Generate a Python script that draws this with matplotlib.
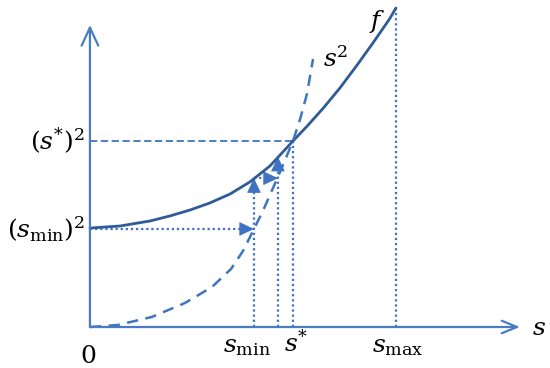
import matplotlib
matplotlib.use('Agg')
import matplotlib.pyplot as plt
from matplotlib.patches import FancyArrowPatch

plt.rcParams['mathtext.fontset'] = 'dejavuserif'

# ---- data (schematic units: s* = 1, (s*)^2 = 1) ----
f_s = [0.0, 0.148, 0.296, 0.394, 0.493, 0.591, 0.690, 0.788, 0.887, 1.0,
       1.069, 1.148, 1.232, 1.315, 1.394, 1.478, 1.507]
f_y = [0.532, 0.543, 0.570, 0.597, 0.629, 0.667, 0.715, 0.780, 0.866, 1.0,
       1.079, 1.175, 1.286, 1.407, 1.527, 1.660, 1.715]

sq_s = [0.0, 0.138, 0.305, 0.468, 0.601, 0.695, 0.754, 0.808, 0.852, 0.901,
        0.951, 1.0, 1.034, 1.069, 1.099]
sq_y = [0.0, 0.011, 0.054, 0.129, 0.215, 0.312, 0.409, 0.527, 0.624, 0.745,
        0.871, 1.0, 1.113, 1.253, 1.441]

s_min, s_mid, s_star, s_max = 0.808, 0.926, 1.0, 1.507
smin_sq, f_smin, f_smid, sstar_sq, f_smax = 0.527, 0.80, 0.915, 1.0, 1.715

y_tick_labels = [r'$(s^{*})^{2}$', r'$(s_{\mathrm{min}})^{2}$']
x_tick_labels = ['$0$', r'$s_{\mathrm{min}}$', r'$s^{*}$', r'$s_{\mathrm{max}}$']
curve_labels = ['$f$', '$s^{2}$']
axis_label = '$s$'

AX = '#4a7cc4'
FCOL = '#2f5b97'
DASH = '#3f74c0'
DOT = '#3f72c2'

fig = plt.figure(figsize=(5.5, 3.68), dpi=100)
ax = fig.add_axes([0, 0, 1, 1])
ax.set_axis_off()
ax.set_xlim(-0.443, 2.266)
ax.set_ylim(-0.2204, 1.758)

# axes with open arrowheads
ax.annotate('', xy=(2.118, 0), xytext=(0, 0),
            arrowprops=dict(arrowstyle='->,head_length=1.1,head_width=0.45',
                            lw=1.6, color=AX, shrinkA=0, shrinkB=0))
ax.annotate('', xy=(0, 1.624), xytext=(0, 0),
            arrowprops=dict(arrowstyle='->,head_length=1.3,head_width=0.6',
                            lw=1.6, color=AX, shrinkA=0, shrinkB=0))

dot = dict(ls=(0, (1, 1.3)), lw=1.6, color=DOT)
ax.plot([0, s_min], [smin_sq, smin_sq], **dot)
ax.plot([s_min, s_min], [0, f_smin], **dot)
ax.plot([s_min, s_mid], [f_smin, f_smin], **dot)
ax.plot([s_mid, s_mid], [0, f_smid], **dot)
ax.plot([s_star, s_star], [0, sstar_sq], **dot)
ax.plot([s_max, s_max], [0, f_smax], **dot)

ax.plot([0, s_star], [sstar_sq, sstar_sq], ls=(0, (4, 2)), lw=1.3, color=DASH)

def head(x0, y0, x1, y1):
    p = FancyArrowPatch((x0, y0), (x1, y1),
                        arrowstyle='-|>,head_length=0.95,head_width=0.45',
                        mutation_scale=10, color=DOT, lw=0.6,
                        shrinkA=0, shrinkB=0)
    ax.add_patch(p)

head(s_min - 0.06, smin_sq, s_min, smin_sq)
head(s_min, f_smin - 0.07, s_min, f_smin)
head(s_mid - 0.06, f_smin, s_mid, f_smin)
head(s_mid, f_smid - 0.07, s_mid, f_smid)

ax.plot(f_s, f_y, color=FCOL, lw=2.0, solid_capstyle='round', solid_joinstyle='round')
ax.plot(sq_s, sq_y, color=DASH, lw=1.8, ls=(0, (4.5, 3)))

fs = 18
ax.text(-0.025, sstar_sq, y_tick_labels[0], ha='right', va='center', fontsize=fs)
ax.text(-0.025, smin_sq, y_tick_labels[1], ha='right', va='center', fontsize=fs)

ax.text(-0.01, -0.194, x_tick_labels[0], ha='center', va='baseline', fontsize=fs)
ax.text(s_min - 0.035, -0.134, x_tick_labels[1], ha='center', va='baseline', fontsize=fs)
ax.text(s_star + 0.015, -0.134, x_tick_labels[2], ha='center', va='baseline', fontsize=fs)
ax.text(s_max + 0.01, -0.134, x_tick_labels[3], ha='center', va='baseline', fontsize=fs)

ax.text(1.414, 1.645, curve_labels[0], ha='center', va='center', fontsize=fs)
ax.text(1.148, 1.398, curve_labels[1], ha='left', va='baseline', fontsize=fs)
ax.text(2.212, -0.043, axis_label, ha='center', va='baseline', fontsize=fs)

fig.savefig('out.png', dpi=100)
